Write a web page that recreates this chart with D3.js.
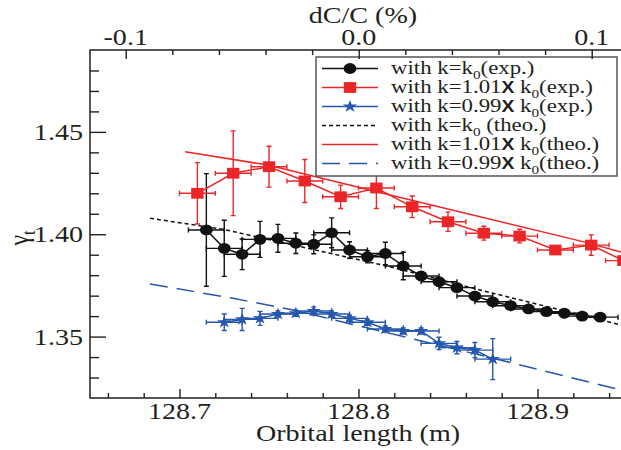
<!DOCTYPE html>
<html>
<head>
<meta charset="utf-8">
<script src="https://cdn.jsdelivr.net/npm/d3@7"></script>
<style>
  body { margin: 0; background: #fff; }
  svg { display: block; }
  text { font-family: "Liberation Serif", "Times New Roman", serif; fill: #231f20; }
</style>
</head>
<body>
<svg id="chart" width="621" height="450"></svg>
<script>
// ---- measured gamma_t vs orbital length (m) ----
const lenK0 = [128.715, 128.725, 128.735, 128.745, 128.755, 128.765, 128.775, 128.785, 128.795, 128.805, 128.815, 128.825,
               128.835, 128.845, 128.855, 128.865, 128.875, 128.885, 128.895, 128.905, 128.915, 128.925, 128.935];
const gammaK0 = [1.4021, 1.3931, 1.3902, 1.3975, 1.3980, 1.3956, 1.3951, 1.4007, 1.3923, 1.3890, 1.3906, 1.3845,
                 1.3796, 1.3768, 1.3739, 1.3698, 1.3670, 1.3651, 1.3635, 1.3622, 1.3614, 1.3600, 1.3595];
const gammaErrK0 = [0.0275, 0.0137, 0.0075, 0.0088, 0.0068, 0.0050, 0.0046, 0.0073, 0.0040, 0.0030, 0.0055, 0.0067,
                    0.0020, 0.0020, 0.0020, 0.0020, 0.0015, 0.0015, 0.0015, 0.0015, 0.0015, 0.0015, 0.0015];
const lenErrK0 = [0.01, 0.01, 0.01, 0.01, 0.01, 0.01, 0.01, 0.01, 0.01, 0.01, 0.01, 0.01,
                  0.01, 0.01, 0.01, 0.01, 0.01, 0.01, 0.01, 0.01, 0.01, 0.01, 0.01];

const lenK101 = [128.71, 128.73, 128.75, 128.77, 128.79, 128.81, 128.83, 128.85, 128.87, 128.89, 128.91, 128.93, 128.948];
const gammaK101 = [1.4200, 1.4298, 1.4330, 1.4260, 1.4183, 1.4226, 1.4134, 1.4061, 1.4005, 1.3991, 1.3923, 1.3947, 1.3871];
const gammaErrK101 = [0.0150, 0.0207, 0.0100, 0.0105, 0.0057, 0.0100, 0.0053, 0.0047, 0.0034, 0.0033, 0.0020, 0.0050, 0.0050];
const lenErrK101 = [0.01, 0.01, 0.01, 0.01, 0.01, 0.01, 0.01, 0.01, 0.01, 0.01, 0.01, 0.01, 0.01];

const lenK099 = [128.725, 128.735, 128.745, 128.755, 128.765, 128.775, 128.785, 128.795,
                 128.805, 128.815, 128.825, 128.835, 128.845, 128.855, 128.865, 128.875];
const gammaK099 = [1.3570, 1.3584, 1.3589, 1.3610, 1.3614, 1.3625, 1.3610, 1.3589,
                   1.3570, 1.3537, 1.3527, 1.3527, 1.3467, 1.3446, 1.3434, 1.3390];
const gammaErrK099 = [0.0040, 0.0054, 0.0034, 0.0015, 0.0015, 0.0020, 0.0015, 0.0015,
                      0.0015, 0.0015, 0.0015, 0.0015, 0.0030, 0.0030, 0.0037, 0.0100];
const lenErrK099 = [0.01, 0.01, 0.01, 0.01, 0.01, 0.01, 0.01, 0.01,
                    0.01, 0.01, 0.01, 0.01, 0.01, 0.01, 0.01, 0.01];

// ---- theoretical curves ----
const theoLenK0 = [128.6835, 128.7245, 128.8176, 128.8746, 128.9466];
const theoGammaK0 = [1.4078, 1.4024, 1.3841, 1.3713, 1.3557];
const theoLenK101 = [128.7031, 128.7494, 128.8176, 128.9254, 128.9466];
const theoGammaK101 = [1.4403, 1.4338, 1.4192, 1.3964, 1.3913];
const theoLenK099 = [128.6835, 128.7299, 128.7634, 128.8791, 128.9466];
const theoGammaK099 = [1.3757, 1.3687, 1.3630, 1.3386, 1.3239];

// ---- axis ticks ----
const xMajorTicks = [128.7, 128.8, 128.9];
const xMinorTicks = [128.66, 128.68, 128.72, 128.74, 128.76, 128.78, 128.82, 128.84, 128.86, 128.88, 128.92, 128.94];
const yMajorTicks = [1.35, 1.40, 1.45];
const yMinorTicks = [1.33, 1.34, 1.36, 1.37, 1.38, 1.39, 1.41, 1.42, 1.43, 1.44, 1.46, 1.47, 1.48];
const topMajorTicks = [-0.1, 0.0, 0.1];
const topTickLabels = ["-0.1", "0.0", "0.1"];
const topMinorTicks = [-0.08, -0.06, -0.04, -0.02, 0.02, 0.04, 0.06, 0.08];

const RED = "#ec2628", BLUE = "#2557ad", BLACK = "#111111";
const SX = 1.17; // horizontal stretch of the lettering

const svg = d3.select("#chart");
const plotLeft = 90, plotRight = 627, plotTop = 50, plotBottom = 398;

const x = d3.scaleLinear().domain([128.65, 128.95]).range([plotLeft, plotRight]);
const y = d3.scaleLinear().domain([1.32, 1.49]).range([plotBottom, plotTop]);
const xTop = d3.scaleLinear().domain([-0.11533, 0.11515]).range([plotLeft, plotRight]);

function label(g, px, py, anchor, size) {
  return g.append("text")
    .attr("transform", `translate(${px},${py}) scale(${SX},1)`)
    .attr("text-anchor", anchor)
    .style("font-size", size + "px");
}

// ---- theoretical curves ----
const line = d3.line().x(d => x(d[0])).y(d => y(d[1]));
const theo = svg.append("g").attr("fill", "none").attr("stroke-width", 1.5);
theo.append("path").datum(d3.zip(theoLenK0, theoGammaK0)).attr("d", line)
  .attr("stroke", BLACK).attr("stroke-dasharray", "4,3");
theo.append("path").datum(d3.zip(theoLenK101, theoGammaK101)).attr("d", line)
  .attr("stroke", RED);
theo.append("path").datum(d3.zip(theoLenK099, theoGammaK099)).attr("d", line)
  .attr("stroke", BLUE).attr("stroke-dasharray", "18,9");

// ---- measured series with error bars ----
function series(lens, gammas, gErr, lErr, color, marker) {
  const pts = lens.map((l, i) => ({ l, g: gammas[i], ge: gErr[i], le: lErr[i] }));
  const g = svg.append("g");
  g.append("path").datum(pts)
    .attr("d", d3.line().x(d => x(d.l)).y(d => y(d.g)))
    .attr("fill", "none").attr("stroke", color).attr("stroke-width", 1.5);
  const eb = g.append("g").attr("stroke", color).attr("stroke-width", 1.4).attr("fill", "none");
  pts.forEach(d => {
    const cx = x(d.l), cy = y(d.g);
    const y0 = y(d.g - d.ge), y1 = y(d.g + d.ge);
    const x0 = x(d.l - d.le), x1 = x(d.l + d.le);
    eb.append("path").attr("d",
      `M${cx},${y0}V${y1}M${cx - 2.5},${y0}H${cx + 2.5}M${cx - 2.5},${y1}H${cx + 2.5}` +
      `M${x0},${cy}H${x1}M${x0},${cy - 2.5}V${cy + 2.5}M${x1},${cy - 2.5}V${cy + 2.5}`);
  });
  pts.forEach(d => marker(g, x(d.l), y(d.g)));
}

function circleMark(g, cx, cy) {
  g.append("ellipse").attr("cx", cx).attr("cy", cy).attr("rx", 6.4).attr("ry", 5.4).attr("fill", BLACK);
}
function squareMark(g, cx, cy) {
  g.append("rect").attr("x", cx - 6.2).attr("y", cy - 5.4).attr("width", 12.4).attr("height", 10.8).attr("fill", RED);
}
function starMark(g, cx, cy) {
  g.append("path").attr("d", d3.symbol(d3.symbolStar, 48)())
    .attr("transform", `translate(${cx},${cy}) scale(${SX},1)`).attr("fill", BLUE);
}

series(lenK0, gammaK0, gammaErrK0, lenErrK0, BLACK, circleMark);
series(lenK101, gammaK101, gammaErrK101, lenErrK101, RED, squareMark);
series(lenK099, gammaK099, gammaErrK099, lenErrK099, BLUE, starMark);

// ---- legend ----
const legendItems = [
  { parts: [["with k=k"], ["0", "sub"], ["(exp.)"]], color: BLACK, dash: null, marker: circleMark },
  { parts: [["with k=1.01"], ["X", "x"], [" k"], ["0", "sub"], ["(exp.)"]], color: RED, dash: null, marker: squareMark },
  { parts: [["with k=0.99"], ["X", "x"], [" k"], ["0", "sub"], ["(exp.)"]], color: BLUE, dash: null, marker: starMark },
  { parts: [["with k=k"], ["0", "sub"], [" (theo.)"]], color: BLACK, dash: "4,3", marker: null },
  { parts: [["with k=1.01"], ["X", "x"], [" k"], ["0", "sub"], ["(theo.)"]], color: RED, dash: null, marker: null },
  { parts: [["with k=0.99"], ["X", "x"], [" k"], ["0", "sub"], ["(theo.)"]], color: BLUE, dash: "18,9", marker: null }
];
const lg = svg.append("g");
lg.append("rect").attr("x", 316).attr("y", 57).attr("width", 301).attr("height", 119)
  .attr("fill", "#fff").attr("stroke", "#555").attr("stroke-width", 1.5);
legendItems.forEach((it, i) => {
  const cy = 68.5 + i * 19;
  lg.append("line").attr("x1", 322).attr("x2", 378).attr("y1", cy).attr("y2", cy)
    .attr("stroke", it.color).attr("stroke-width", 1.5)
    .attr("stroke-dasharray", it.dash);
  if (it.marker) it.marker(lg, 350, cy);
  const t = label(lg, 391, cy + 5.5, "start", 19.5);
  let shifted = false;
  it.parts.forEach(([s, kind]) => {
    const sp = t.append("tspan").text(s);
    if (kind === "sub") { sp.attr("dy", 4.5).style("font-size", "13px"); shifted = true; }
    else {
      if (shifted) { sp.attr("dy", -4.5); shifted = false; }
      if (kind === "x") sp.style("font-family", "'Liberation Sans', Arial, sans-serif")
        .style("font-weight", "bold").style("font-size", "16.5px");
    }
  });
});

// ---- frame and ticks ----
function ticks(axisFn, scale, values, size, transform) {
  const g = svg.append("g").attr("transform", transform)
    .call(axisFn(scale).tickValues(values).tickSize(size).tickFormat(""));
  g.select(".domain").remove();
  g.selectAll("line").attr("stroke", "#231f20").attr("stroke-width", 1.4);
}
ticks(d3.axisBottom, x, xMajorTicks, -9, `translate(0,${plotBottom})`);
ticks(d3.axisBottom, x, xMinorTicks, -5, `translate(0,${plotBottom})`);
ticks(d3.axisTop, xTop, topMajorTicks, -9, `translate(0,${plotTop})`);
ticks(d3.axisTop, xTop, topMinorTicks, -5, `translate(0,${plotTop})`);
ticks(d3.axisLeft, y, yMajorTicks, -16, `translate(${plotLeft},0)`);
ticks(d3.axisLeft, y, yMinorTicks, -9, `translate(${plotLeft},0)`);
svg.append("path").attr("fill", "none").attr("stroke", "#231f20").attr("stroke-width", 1.5)
  .attr("d", `M${plotRight},${plotTop}H${plotLeft}V${plotBottom}H${plotRight}`);

// ---- tick labels ----
const fmt1 = d3.format(".1f"), fmt2 = d3.format(".2f");
xMajorTicks.forEach(v => label(svg, x(v), 419, "middle", 24).text(fmt1(v)));
topMajorTicks.forEach((v, i) => label(svg, xTop(v), 45, "middle", 24).text(topTickLabels[i]));
yMajorTicks.forEach(v => label(svg, 83, y(v) + 8, "end", 24).text(fmt2(v)));

// ---- axis titles ----
label(svg, 358, 441, "middle", 24).text("Orbital length (m)");
label(svg, 363, 23, "middle", 24).text("dC/C (%)");
const yt = svg.append("text").attr("transform", `translate(28,238) rotate(-90) scale(1,${SX})`)
  .attr("text-anchor", "middle").style("font-size", "24px");
yt.append("tspan").text("γ");
yt.append("tspan").text("t").attr("dy", 6).style("font-size", "16px");
</script>
</body>
</html>
